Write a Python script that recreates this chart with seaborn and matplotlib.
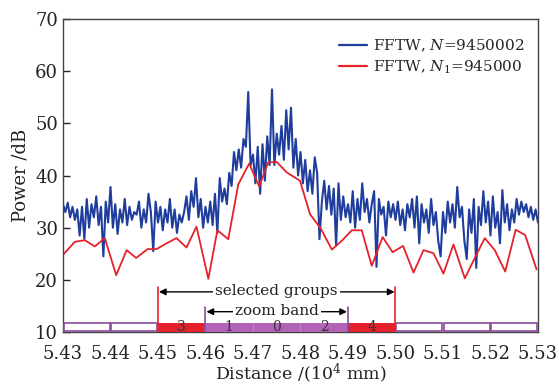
import numpy as np
import pandas as pd
import matplotlib
matplotlib.use("Agg")
import matplotlib.pyplot as plt
from matplotlib.patches import Rectangle
import seaborn as sns

# ---------------- data ----------------
blue_start, blue_step = 5.4300, 0.0005
blue_power = [
    34.5, 33.0, 34.8, 32.0, 34.0, 31.5, 33.5, 28.5, 34.0, 27.8,
    35.5, 30.0, 34.5, 32.0, 36.0, 30.5, 34.0, 24.5, 35.0, 31.0,
    37.8, 30.0, 34.5, 28.8, 33.5, 31.0, 35.5, 30.5, 34.0, 31.5,
    33.0, 32.5, 35.0, 30.0, 33.5, 31.0, 36.5, 33.0, 25.5, 35.0,
    31.0, 34.0, 29.5, 33.5, 31.0, 35.5, 30.0, 33.5, 29.0, 32.5,
    31.0, 33.0, 36.0, 31.5, 37.0, 34.0, 39.5, 32.0, 35.5, 30.0,
    34.0, 31.0, 35.0, 30.5, 36.5, 29.0, 39.5, 35.0, 37.5, 34.5,
    40.5, 38.0, 44.5, 41.0, 45.0, 41.5, 47.0, 45.5, 56.0, 42.0,
    44.0, 38.5, 45.5, 36.5, 46.0, 39.0, 47.5, 42.0, 56.5, 42.0,
    48.0, 44.0, 49.5, 43.0, 52.5, 45.0, 53.0, 41.5, 47.0, 40.0,
    44.5, 38.5, 43.0, 37.0, 41.0, 36.5, 43.5, 40.5, 27.8, 35.0,
    39.0, 33.5, 38.0, 32.5, 37.5, 26.6, 38.5, 31.5, 36.0, 32.0,
    34.5, 31.0, 37.0, 30.0, 35.5, 31.5, 38.5, 33.0, 35.5, 31.0,
    34.5, 37.0, 22.5, 35.5, 32.5, 34.0, 28.5, 35.0, 32.0, 34.5,
    31.5, 35.0, 30.5, 33.5, 29.5, 34.5, 32.0, 35.5, 30.0, 36.0,
    27.0, 34.5, 31.0, 33.5, 29.0, 35.5, 30.5, 33.0, 27.5, 24.5,
    33.0, 29.0, 35.0, 31.0, 34.5, 30.0, 37.8, 32.0, 34.0, 27.5,
    24.0, 33.5, 29.0, 35.5, 22.3, 34.0, 30.5, 37.0, 31.0, 35.0,
    28.5, 36.0, 30.0, 33.0, 27.0, 37.2, 31.0, 34.5, 29.5, 33.5,
    31.0, 35.5, 32.5, 35.0, 33.0, 34.5, 32.0, 34.0, 31.5, 33.5,
    31.0,
]
blue_dist = [round(blue_start + i * blue_step, 4) for i in range(len(blue_power))]

red_dist = [5.4300, 5.4325, 5.4346, 5.4367, 5.4388, 5.4412, 5.4434, 5.4454, 5.4478, 5.4497,
            5.4518, 5.4539, 5.4560, 5.4581, 5.4606, 5.4625, 5.4648, 5.4669, 5.4692, 5.4713,
            5.4732, 5.4750, 5.4771, 5.4799, 5.4820, 5.4843, 5.4866, 5.4887, 5.4908, 5.4929,
            5.4950, 5.4973, 5.4994, 5.5016, 5.5038, 5.5059, 5.5080, 5.5101, 5.5122, 5.5146,
            5.5167, 5.5188, 5.5209, 5.5231, 5.5253, 5.5273, 5.5297]
red_power = [24.8, 27.3, 27.6, 26.4, 28.0, 20.9, 25.7, 24.2, 25.9, 25.9,
             27.0, 28.0, 26.2, 30.2, 20.2, 29.5, 27.8, 38.3, 42.3, 37.9,
             42.5, 42.6, 40.6, 39.0, 32.6, 29.8, 25.8, 27.5, 29.5, 29.5,
             22.7, 28.2, 25.3, 26.5, 21.4, 25.7, 25.1, 21.2, 26.8, 20.3,
             24.2, 28.0, 25.7, 21.6, 29.6, 28.6, 22.0]

series_labels = ["FFTW, $N$=9450002", "FFTW, $N_1$=945000"]
group_edges = [5.43, 5.44, 5.45, 5.46, 5.47, 5.48, 5.49, 5.50, 5.51, 5.52, 5.53]
group_names = ["", "", "3", "1", "0", "2", "4", "", "", ""]
group_kind = ["out", "out", "sel", "zoom", "zoom", "zoom", "sel", "out", "out", "out"]
x_ticks = [5.43, 5.44, 5.45, 5.46, 5.47, 5.48, 5.49, 5.50, 5.51, 5.52, 5.53]
y_ticks = [10, 20, 30, 40, 50, 60, 70]

df = pd.concat([
    pd.DataFrame({"dist": blue_dist, "power": blue_power, "series": series_labels[0]}),
    pd.DataFrame({"dist": red_dist, "power": red_power, "series": series_labels[1]}),
])

# ---------------- style ----------------
sns.set_style("ticks")
plt.rcParams["font.family"] = ["DejaVu Serif"]
plt.rcParams["mathtext.fontset"] = "dejavuserif"

BLUE = "#1f3d9c"
RED = "#e5222b"
PURPLE = "#b263b8"
PURPLE_EDGE = "#8a4a9c"

fig = plt.figure(figsize=(5.59, 3.87), dpi=100)
ax = fig.add_axes([0.1127, 0.142, 0.8497, 0.809])

sns.lineplot(data=df, x="dist", y="power", hue="series",
             palette={series_labels[0]: BLUE, series_labels[1]: RED},
             ax=ax, estimator=None, sort=False)
for ln, lw in zip(ax.lines, [1.5, 1.3]):
    ln.set_linewidth(lw)

ax.set_xlim(5.43, 5.53)
ax.set_ylim(10, 70)
ax.set_xticks(x_ticks)
ax.set_xticklabels([f"{v:.2f}" for v in x_ticks])
ax.set_yticks(y_ticks)
ax.tick_params(axis="y", direction="in", length=5, width=1, labelsize=13, colors="#222222")
ax.tick_params(axis="x", length=0, labelsize=13, pad=9, colors="#222222")
for s in ax.spines.values():
    s.set_color("#444444")
    s.set_linewidth(1.0)

ax.set_xlabel("Distance /(10$^4$ mm)", fontsize=12.5, labelpad=-1, color="#222222")
ax.set_ylabel("Power /dB", fontsize=13, labelpad=4, color="#222222")

leg = ax.legend(loc="upper right", bbox_to_anchor=(1.0, 0.985), frameon=False,
                fontsize=11, handlelength=1.8, handletextpad=0.4, labelspacing=0.3)
for h in leg.get_lines():
    h.set_linewidth(1.6)

# ---------------- group boxes ----------------
box_top = 11.8
for i, kind in enumerate(group_kind):
    x0, x1 = group_edges[i], group_edges[i + 1]
    if kind == "out":
        ax.add_patch(Rectangle((x0 + 0.0002, 10.15), (x1 - x0) - 0.0004, box_top - 10.3,
                               facecolor="white", edgecolor=PURPLE_EDGE, lw=1.2, zorder=5,
                               clip_on=False))
    else:
        fc = RED if kind == "sel" else PURPLE
        ax.add_patch(Rectangle((x0, 10.0), x1 - x0, box_top - 10.0,
                               facecolor=fc, edgecolor="none", zorder=5))
        if group_names[i]:
            ax.text((x0 + x1) / 2, 10.95, group_names[i], ha="center", va="center",
                    fontsize=10, color="#333333", zorder=6)
for xb in group_edges[3:6]:
    ax.plot([xb + 0.0, xb + 0.0], [10.2, box_top], color="#c88ccc", lw=0.6, zorder=6)

# vertical markers
for xv in (5.45, 5.50):
    ax.plot([xv, xv], [10.0, 18.6], color=RED, lw=1.2, zorder=6)
for xv in (5.46, 5.49):
    ax.plot([xv, xv], [10.0, 14.8], color=PURPLE_EDGE, lw=1.2, zorder=6)

arrow_kw = dict(arrowstyle="<|-|>", color="black", lw=1.0, mutation_scale=10,
                shrinkA=0, shrinkB=0)
ax.annotate("", xy=(5.4502, 17.7), xytext=(5.4998, 17.7), arrowprops=arrow_kw, zorder=7)
ax.annotate("", xy=(5.4602, 13.9), xytext=(5.4898, 13.9), arrowprops=arrow_kw, zorder=7)
ax.text(5.475, 17.8, "selected groups", ha="center", va="center", fontsize=11,
        color="#222222", zorder=8,
        bbox=dict(facecolor="white", edgecolor="none", pad=1.5))
ax.text(5.475, 14.0, "zoom band", ha="center", va="center", fontsize=11,
        color="#222222", zorder=8,
        bbox=dict(facecolor="white", edgecolor="none", pad=1.5))

fig.savefig("out.png", dpi=100)
